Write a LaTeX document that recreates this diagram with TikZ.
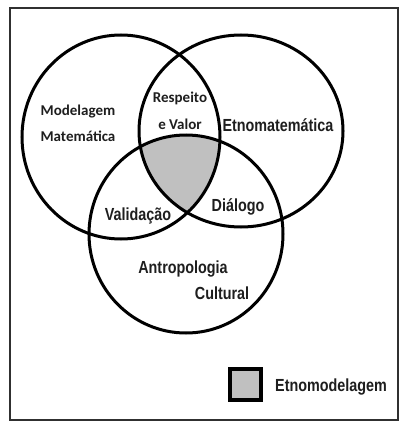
\documentclass[tikz,border=0pt]{standalone}
\usepackage{fontspec}
\setmainfont{Liberation Sans}
\newfontfamily\narrowbold[FakeStretch=0.82]{Liberation Sans Bold}
\newfontfamily\calibold{Carlito Bold}
\definecolor{ink}{HTML}{1E1E1E}
\definecolor{etnogray}{HTML}{C0C0C0}
\definecolor{framecol}{HTML}{303030}
\begin{document}
\begin{tikzpicture}[x=1pt,y=-1pt,
  ring/.style={draw=black,line width=3pt},
  lbl/.style={text=ink,font=\narrowbold\fontsize{17.5}{19}\selectfont,inner sep=0pt},
  slbl/.style={text=ink,font=\calibold\fontsize{15}{17}\selectfont,inner sep=0pt}]
\useasboundingbox (0,0) rectangle (402,425);
\fill[white] (0,0) rectangle (402,425);
\draw[framecol,line width=2pt] (10,8) rectangle (398,420);
% shaded triple intersection
\begin{scope}
  \clip (121,137) ellipse [x radius=99,y radius=102];
  \clip (241,131) ellipse [x radius=102,y radius=96];
  \fill[etnogray] (186,234) ellipse [x radius=97,y radius=99];
\end{scope}
\draw[ring] (121,137) ellipse [x radius=99,y radius=102];
\draw[ring] (241,131) ellipse [x radius=102,y radius=96];
\draw[ring] (186,234) ellipse [x radius=97,y radius=99];
% labels
\node[slbl] (mod1) at (78,112) {Modelagem};
\node[slbl] (mod2) at (78,136) {Matemática};
\node[slbl] (res1) at (180,98) {Respeito};
\node[slbl] (res2) at (180,124) {e Valor};
\node[lbl] (etno) at (278,125) {Etnomatemática};
\node[lbl] (val) at (138,216) {Validação};
\node[lbl] (dia) at (238,207) {Diálogo};
\node[lbl] (ant1) at (183,269) {Antropologia};
\node[lbl] (ant2) at (222,293) {Cultural};
% legend
\draw[black,line width=4pt,fill=etnogray] (230,369) rectangle (261,400);
\node[lbl,anchor=west] (leg) at (275,387) {Etnomodelagem};
\end{tikzpicture}
\end{document}
